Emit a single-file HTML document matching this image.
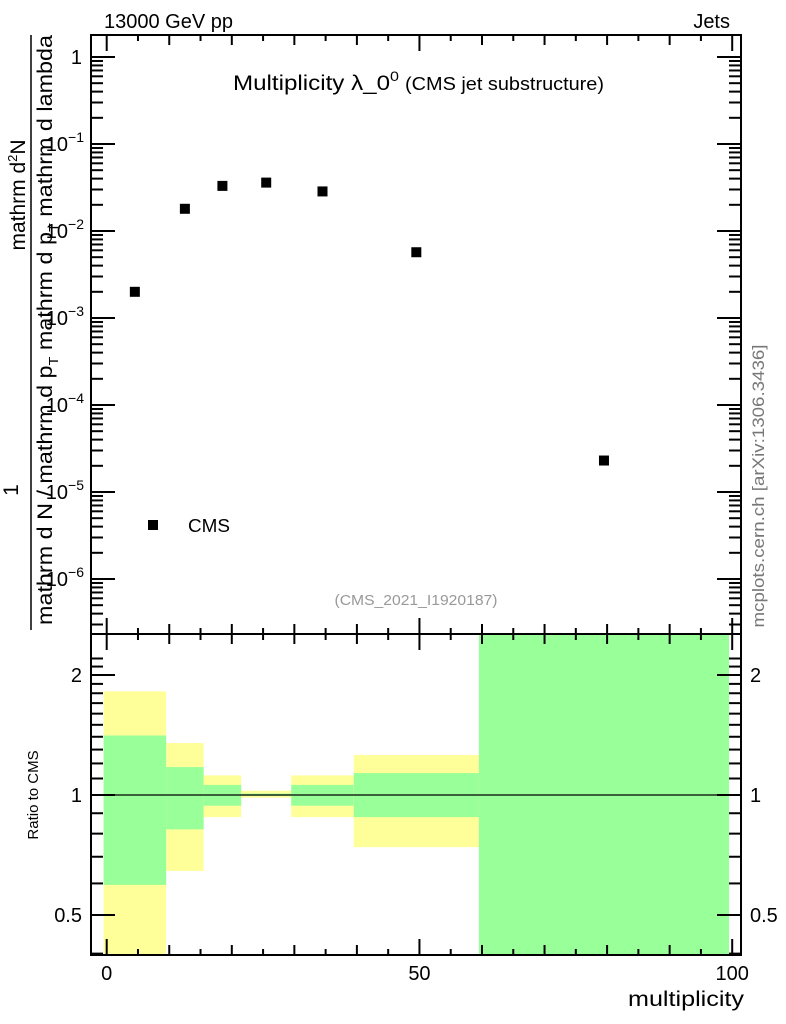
<!DOCTYPE html>
<html><head><meta charset="utf-8"><style>
body{margin:0;background:#fff}
svg{display:block;font-family:"Liberation Sans",sans-serif}
</style></head><body>
<svg id="s" width="786" height="1024" xmlns="http://www.w3.org/2000/svg">
<defs><clipPath id="rc"><rect x="91" y="634" width="650" height="321"/></clipPath></defs>
<g id="bands" clip-path="url(#rc)"></g>
<line x1="91" y1="795" x2="741" y2="795" stroke="#000" stroke-width="1.2"/>
<g id="ticks" stroke="#000" stroke-width="2" fill="none"></g>
<rect x="91" y="35" width="650" height="920" fill="none" stroke="#000" stroke-width="2"/>
<line x1="91" y1="634" x2="741" y2="634" stroke="#000" stroke-width="2"/>
<g id="pts"></g>
<text x="104" y="28" font-size="20">13000 GeV pp</text>
<text x="730" y="28" font-size="20" text-anchor="end">Jets</text>
<text x="233" y="90" font-size="21" textLength="166" lengthAdjust="spacingAndGlyphs">Multiplicity λ_0<tspan dy="-9" font-size="14">0</tspan></text>
<text x="405" y="90" font-size="18" textLength="199" lengthAdjust="spacingAndGlyphs">(CMS jet substructure)</text>
<rect x="148" y="520" width="10" height="10" fill="#000"/>
<text x="188" y="532" font-size="18" textLength="42" lengthAdjust="spacingAndGlyphs">CMS</text>
<text x="416" y="605" font-size="15" fill="#999" text-anchor="middle" textLength="163" lengthAdjust="spacingAndGlyphs">(CMS_2021_I1920187)</text>
<text transform="translate(764,486) rotate(-90)" font-size="17" fill="#777" text-anchor="middle" textLength="283" lengthAdjust="spacingAndGlyphs">mcplots.cern.ch [arXiv:1306.3436]</text>
<text x="744" y="1006" font-size="21" text-anchor="end" textLength="116" lengthAdjust="spacingAndGlyphs">multiplicity</text>
<text transform="translate(38,795) rotate(-90)" font-size="15" text-anchor="middle">Ratio to CMS</text>
<g font-size="21">
<text transform="translate(25,195) rotate(-90)" text-anchor="middle">mathrm d<tspan dy="-8" font-size="13">2</tspan><tspan dy="8">N</tspan></text>
<line x1="31" y1="35" x2="31" y2="630" stroke="#000" stroke-width="1.5"/>
<text transform="translate(52,330) rotate(-90)" text-anchor="middle" textLength="590" lengthAdjust="spacingAndGlyphs">mathrm d N / mathrm d p<tspan dy="6" font-size="13">T</tspan><tspan dy="-6"> mathrm d p</tspan><tspan dy="6" font-size="13">T</tspan><tspan dy="-6"> mathrm d lambda</tspan></text>
<text transform="translate(18,490) rotate(-90)" text-anchor="middle">1</text>
</g>
<g id="labels" font-size="20"></g>
</svg>
<script>
const NS="http://www.w3.org/2000/svg";
function el(p,t,a,txt){const e=document.createElementNS(NS,t);for(const k in a)e.setAttribute(k,a[k]);if(txt!==undefined)e.innerHTML=txt;document.getElementById(p).appendChild(e);return e;}
const X=v=>106.7+v*6.255;
const YR=r=>795-398.6*Math.log10(r);
const YM=v=>57-87*Math.log10(v);
const bins=[[-0.5,9.5,1.82,0.3,1.41,0.595],[9.5,15.5,1.35,0.645,1.175,0.82],[15.5,21.5,1.12,0.88,1.06,0.94],[21.5,29.5,1.025,0.985,1.008,0.995],[29.5,39.5,1.12,0.88,1.06,0.94],[39.5,59.5,1.26,0.74,1.135,0.88]];
for(const b of bins){
 el('bands','rect',{x:X(b[0]),y:YR(b[2]),width:X(b[1])-X(b[0]),height:YR(b[3])-YR(b[2]),fill:'#ffff99'});
 el('bands','rect',{x:X(b[0]),y:YR(b[4]),width:X(b[1])-X(b[0]),height:YR(b[5])-YR(b[4]),fill:'#99ff99'});
}
el('bands','rect',{x:X(59.5),y:635,width:X(99.5)-X(59.5),height:320,fill:'#99ff99'});
for(let v=0;v<=100;v+=5){
 const x=X(v),L=v%50==0?16:(v%10==0?10:6);
 el('ticks','line',{x1:x,y1:955,x2:x,y2:955-L});
 el('ticks','line',{x1:x,y1:634,x2:x,y2:634-L});
 el('ticks','line',{x1:x,y1:35,x2:x,y2:35+L});
 el('ticks','line',{x1:x,y1:634,x2:x,y2:634+L});
}
[0,50,100].forEach(v=>el('labels','text',{x:X(v),y:980,'text-anchor':'middle'},v));
for(let d=-7;d<=0;d++){
 for(let m=1;m<10;m++){
  const v=m*Math.pow(10,d),y=YM(v);
  if(y<36||y>633)continue;
  const L=m==1?24:12;
  el('ticks','line',{x1:91,y1:y,x2:91+L,y2:y});
  el('ticks','line',{x1:741,y1:y,x2:741-L,y2:y});
 }
}
el('labels','text',{x:82,y:64,'text-anchor':'end'},'1');
for(let d=-1;d>=-6;d--){
 el('labels','text',{x:84,y:YM(Math.pow(10,d))+7,'text-anchor':'end'},'10<tspan dy="-9" font-size="14">−'+(-d)+'</tspan>');
}
const rt=[];for(let r=0.4;r<=2.3;r+=0.1)rt.push(Math.round(r*10)/10);
for(const r of rt){
 const y=YR(r);if(y<636||y>954)continue;
 const L=(r==0.5||r==1||r==2)?24:12;
 el('ticks','line',{x1:91,y1:y,x2:91+L,y2:y});
 el('ticks','line',{x1:741,y1:y,x2:741-L,y2:y});
}
[[2,'2'],[1,'1'],[0.5,'0.5']].forEach(([r,t])=>{
 el('labels','text',{x:82,y:YR(r)+7,'text-anchor':'end'},t);
 el('labels','text',{x:750,y:YR(r)+7},t);
});
[[4.5,2e-3],[12.5,1.8e-2],[18.5,3.3e-2],[25.5,3.6e-2],[34.5,2.85e-2],[49.5,5.7e-3],[79.5,2.3e-5]].forEach(([x,v])=>{
 el('pts','rect',{x:X(x)-5,y:YM(v)-5,width:10,height:10,fill:'#000'});
});
</script>
</body></html>
